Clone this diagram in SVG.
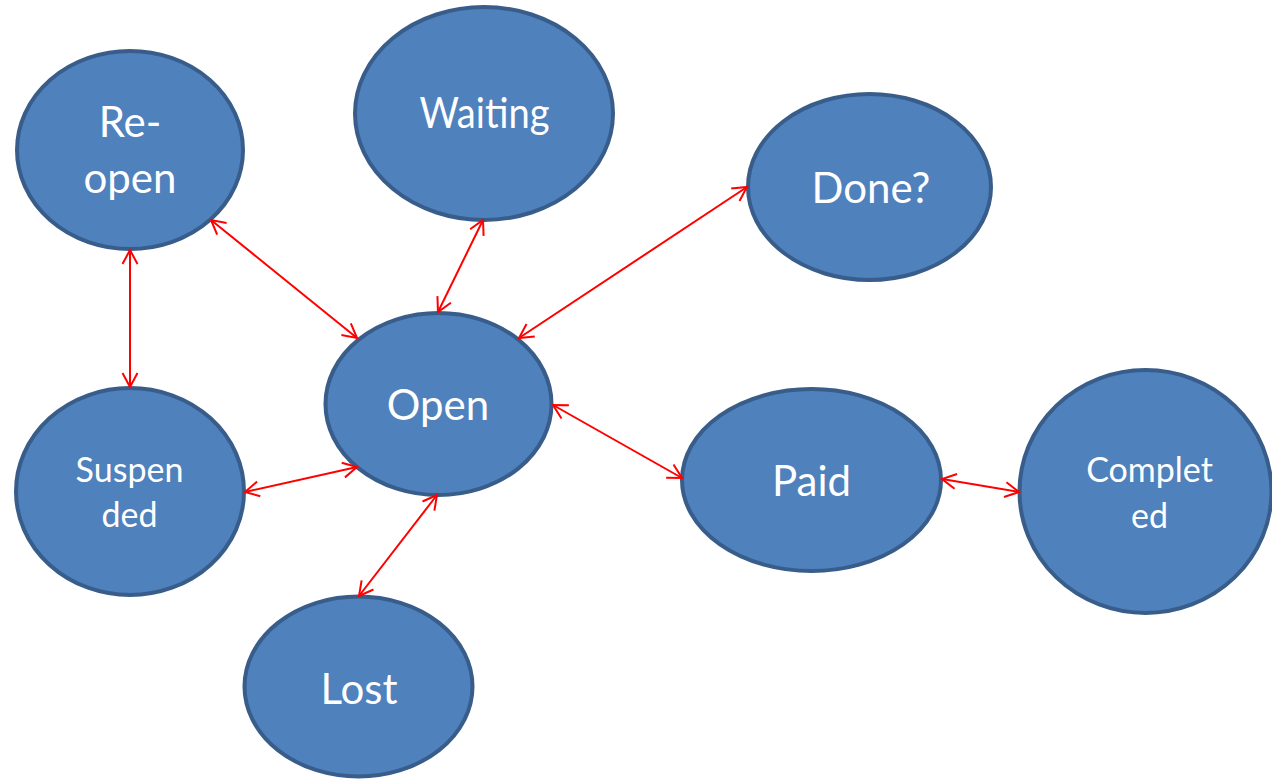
<svg xmlns="http://www.w3.org/2000/svg" width="1272" height="779" viewBox="0 0 1272 779">
<style>
.node ellipse{fill:#4F81BD;stroke:#385D8A;stroke-width:4}
.node text{fill:#FFFFFF;font-family:Lato,"Open Sans","Liberation Sans",sans-serif;text-anchor:middle}
.big{font-size:42px}
.small{font-size:34px}
.conn line{stroke:#FF0000;stroke-width:2;fill:none;marker-start:url(#ah);marker-end:url(#ah)}
</style>
<defs>
<marker id="ah" viewBox="-17 -10 19 20" refX="0" refY="0" markerWidth="19" markerHeight="20" markerUnits="userSpaceOnUse" orient="auto-start-reverse">
<path d="M-14,-7.5 L0,0 L-14,7.5" fill="none" stroke="#FF0000" stroke-width="2"/>
</marker>
</defs>
<rect width="1272" height="779" fill="#FFFFFF"/>
<g id="node-reopen" class="node"><ellipse cx="130" cy="150" rx="113" ry="99"/><text class="big" x="130" y="137">Re-</text><text class="big" x="130" y="193">open</text></g>
<g id="node-waiting" class="node"><ellipse cx="484" cy="113.5" rx="129" ry="106.5"/><text class="big" x="484.5" y="128" textLength="130" lengthAdjust="spacingAndGlyphs">Waiting</text></g>
<g id="node-done" class="node"><ellipse cx="869.5" cy="187" rx="121.5" ry="93"/><text class="big" x="871" y="203">Done?</text></g>
<g id="node-open" class="node"><ellipse cx="438.5" cy="404" rx="113" ry="91"/><text class="big" x="438" y="420">Open</text></g>
<g id="node-suspended" class="node"><ellipse cx="130" cy="491.5" rx="114" ry="103.5"/><text class="small" x="129.5" y="482">Suspen</text><text class="small" x="129.5" y="527">ded</text></g>
<g id="node-paid" class="node"><ellipse cx="811.5" cy="480" rx="129.5" ry="91"/><text class="big" x="811.5" y="496">Paid</text></g>
<g id="node-completed" class="node"><ellipse cx="1145.5" cy="491.5" rx="126" ry="121.5"/><text class="small" x="1149.5" y="482">Complet</text><text class="small" x="1149.5" y="528">ed</text></g>
<g id="node-lost" class="node"><ellipse cx="358.5" cy="686.5" rx="114" ry="90"/><text class="big" x="359" y="704">Lost</text></g>
<g id="connectors" class="conn">
<line x1="211" y1="220" x2="357" y2="338"/>
<line x1="483" y1="220" x2="438" y2="312"/>
<line x1="747" y1="187" x2="519" y2="338"/>
<line x1="130" y1="250" x2="130" y2="387"/>
<line x1="245" y1="492" x2="357" y2="467"/>
<line x1="553" y1="405" x2="682" y2="478"/>
<line x1="942" y1="479" x2="1019" y2="492"/>
<line x1="437" y1="495" x2="359" y2="596"/>
</g>
</svg>
